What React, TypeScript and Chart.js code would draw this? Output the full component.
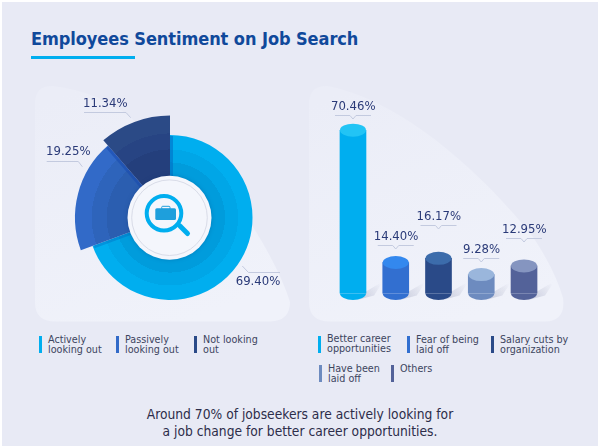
import React, { useEffect, useRef } from "react";
import { Chart, registerables } from "chart.js";

Chart.register(...registerables);

const FONT = "'DejaVu Sans Condensed', 'DejaVu Sans', sans-serif";

const sentimentCategories = ["Actively looking out", "Passively looking out", "Not looking out"];
const sentimentValues = [69.4, 19.25, 11.34];
const sentimentColors = ["#00aeef", "#326ac8", "#2a4a88"];
const reasonCategories = ["Better career opportunities", "Fear of being laid off", "Salary cuts by organization", "Have been laid off", "Others"];
const reasonValues = [70.46, 14.4, 16.17, 9.28, 12.95];
const reasonSide = ["#00aeef", "#326fd0", "#2a4a88", "#6d8bbf", "#536299"];
const reasonTop = ["#22c4f5", "#3388ee", "#3c6cab", "#9ab6dc", "#8595c0"];
const title = "Employees Sentiment on Job Search";
const note = ["Around 70% of jobseekers are actively looking for", "a job change for better career opportunities."];

// Drawing style and layout, separate from the data above
const sentimentRadii = [82.5, 95, 102];
const sentimentBands = [
  ["#009cdc", "#00a6e7", "#00aeef"],
  ["#2b5eb0", "#2e64bb", "#326ac8"],
  ["#243f7c", "#274483", "#2b4a86"],
];
const reasonLabelLift = [15.2, 17.2, 33, 16.3, 27.6];
const legendLeftPos = [
  { x: 39, y: 336, w: 68 },
  { x: 116, y: 336, w: 68 },
  { x: 194, y: 336, w: 68 },
];
const legendRightPos = [
  { x: 318, y: 336, w: 70, dy: -1 },
  { x: 407, y: 336, w: 70 },
  { x: 491, y: 336, w: 76 },
  { x: 319, y: 365, w: 60 },
  { x: 391, y: 365, w: 40 },
];

const pct = (v: number) => v.toFixed(2) + "%";

const LABEL_COLOR = "#2a3a78";
const LINE_COLOR = "#c3cadf";

function leader(ctx: CanvasRenderingContext2D, pts: number[][]) {
  ctx.save();
  ctx.strokeStyle = LINE_COLOR;
  ctx.lineWidth = 1;
  ctx.beginPath();
  pts.forEach((p, i) => (i ? ctx.lineTo(p[0], p[1]) : ctx.moveTo(p[0], p[1])));
  ctx.stroke();
  ctx.restore();
}

function labelText(ctx: CanvasRenderingContext2D, s: string, x: number, y: number) {
  ctx.save();
  ctx.font = `13px ${FONT}`;
  ctx.fillStyle = LABEL_COLOR;
  ctx.textAlign = "center";
  ctx.textBaseline = "middle";
  ctx.fillText(s, x, y);
  ctx.restore();
}

function edgeShade(ctx: CanvasRenderingContext2D, a: any, angle: number, side: number, R: number, color: string) {
  const nx = -Math.sin(angle) * side * 1.5;
  const ny = Math.cos(angle) * side * 1.5;
  ctx.save();
  ctx.strokeStyle = color;
  ctx.lineWidth = 3;
  ctx.beginPath();
  ctx.moveTo(a.x + Math.cos(angle) * 35 + nx, a.y + Math.sin(angle) * 35 + ny);
  ctx.lineTo(a.x + Math.cos(angle) * R + nx, a.y + Math.sin(angle) * R + ny);
  ctx.stroke();
  ctx.restore();
}

const rosePlugin = {
  id: "rose",
  beforeDatasetsDraw(chart: any) {
    const arcs = chart.getDatasetMeta(0).data;
    arcs.forEach((a: any, i: number) => {
      a.outerRadius = sentimentRadii[i];
      a.innerRadius = 30;
    });
  },
  afterDatasetsDraw(chart: any) {
    const ctx = chart.ctx as CanvasRenderingContext2D;
    const arcs = chart.getDatasetMeta(0).data;
    edgeShade(ctx, arcs[2], arcs[2].startAngle, -1, 94, "rgba(25,75,175,0.6)");
    edgeShade(ctx, arcs[2], arcs[2].endAngle, 1, 81.5, "rgba(0,105,195,0.55)");
    edgeShade(ctx, arcs[1], arcs[1].startAngle, -1, 81.5, "rgba(0,100,190,0.35)");
    const v = sentimentValues;
    labelText(ctx, pct(v[0]), 238, 201.7);
    leader(ctx, [[222.3, 186], [228.5, 192.5], [260, 192.5]]);
    labelText(ctx, pct(v[1]), 48.3, 72);
    leader(ctx, [[26.7, 81.5], [58.3, 81.5], [62.3, 86.7]]);
    labelText(ctx, pct(v[2]), 85.3, 23.7);
    leader(ctx, [[64, 32.5], [106, 32.5], [110.7, 37.7]]);
  },
};

const cylinderPlugin = {
  id: "cylinder",
  beforeDatasetsDraw(chart: any) {
    const ctx = chart.ctx as CanvasRenderingContext2D;
    const els = chart.getDatasetMeta(0).data;
    const base = chart.chartArea.bottom;
    els.forEach((e: any) => {
      const g = ctx.createLinearGradient(e.x + 10, base + 4, e.x + 28, base - 10);
      g.addColorStop(0, "rgba(140,145,175,0.32)");
      g.addColorStop(1, "rgba(140,145,175,0)");
      ctx.save();
      ctx.fillStyle = g;
      ctx.beginPath();
      ctx.moveTo(e.x + 6, base + 6);
      ctx.lineTo(e.x + 13, base - 2);
      ctx.lineTo(e.x + 30, base - 12);
      ctx.lineTo(e.x + 21, base + 2);
      ctx.closePath();
      ctx.fill();
      ctx.restore();
    });
  },
  afterDatasetsDraw(chart: any) {
    const ctx = chart.ctx as CanvasRenderingContext2D;
    const els = chart.getDatasetMeta(0).data;
    const base = chart.chartArea.bottom;
    const ry = 6.5;
    els.forEach((e: any, i: number) => {
      const rx = e.width / 2;
      ctx.save();
      ctx.fillStyle = reasonSide[i];
      ctx.beginPath();
      ctx.ellipse(e.x, base, rx, ry, 0, 0, Math.PI);
      ctx.fill();
      ctx.fillStyle = reasonTop[i];
      ctx.beginPath();
      ctx.ellipse(e.x, e.y, rx, ry, 0, 0, Math.PI * 2);
      ctx.fill();
      ctx.restore();
      const ly = Math.round(e.y - reasonLabelLift[i]) + 0.5;
      leader(ctx, [[e.x - 18, ly], [e.x - 3, ly], [e.x, ly + 3.5], [e.x + 3, ly], [e.x + 18, ly]]);
      labelText(ctx, pct(reasonValues[i]), e.x + 0.3, ly - 8.5);
    });
  },
};

function Legend({ x, y, w, t, c, dy = 0 }: { x: number; y: number; w: number; t: string; c: string; dy?: number }) {
  return (
    <div style={{ position: "absolute", left: x, top: y, width: w + 12, height: 17, borderLeft: `3px solid ${c}`, paddingLeft: 6, font: `10.7px/10px ${FONT}`, color: "#3d4560" }}>
      <div style={{ width: w, marginTop: dy - 1 }}>{t}</div>
    </div>
  );
}

export default function App() {
  const pieRef = useRef<HTMLCanvasElement>(null);
  const barRef = useRef<HTMLCanvasElement>(null);

  useEffect(() => {
    document.body.style.margin = "0";
    document.body.style.background = "#ffffff";
    const pie = new Chart(pieRef.current!, {
      type: "doughnut",
      data: {
        labels: sentimentCategories,
        datasets: [
          {
            data: sentimentValues,
            borderWidth: 0,
            backgroundColor: (c: any) => {
              const i = c.dataIndex ?? 0;
              const ctx = c.chart.ctx as CanvasRenderingContext2D;
              const R = sentimentRadii[i];
              const g = ctx.createRadialGradient(150, 137.5, 0, 150, 137.5, R);
              const colors = sentimentBands[i];
              const stops = [0, 0.667, 0.667, 0.824, 0.824, 1];
              stops.forEach((s, k) => g.addColorStop(s, colors[Math.floor(k / 2)]));
              return g;
            },
          },
        ],
      },
      options: {
        responsive: false,
        animation: false,
        cutout: 30,
        radius: 102,
        layout: { padding: { top: 35 } },
        plugins: { legend: { display: false }, tooltip: { enabled: false } },
      } as any,
      plugins: [rosePlugin],
    });

    const bar = new Chart(barRef.current!, {
      type: "bar",
      data: {
        labels: reasonCategories,
        datasets: [{ data: reasonValues, backgroundColor: reasonSide, borderWidth: 0, barThickness: 26 }],
      },
      options: {
        responsive: false,
        animation: false,
        layout: { padding: { left: 21.6, right: 24.6, top: 27.7, bottom: 16.5 } },
        scales: {
          x: { display: false },
          y: { display: false, min: 1.27, max: 80 },
        },
        plugins: { legend: { display: false }, tooltip: { enabled: false } },
      } as any,
      plugins: [cylinderPlugin],
    });
    return () => {
      pie.destroy();
      bar.destroy();
    };
  }, []);

  return (
    <div style={{ position: "relative", width: 600, height: 448, overflow: "hidden", background: "#fff" }}>
      <div style={{ position: "absolute", left: 2, top: 2, width: 596, height: 444, background: "#e8eaf5" }} />
      <svg width={600} height={448} style={{ position: "absolute", left: 0, top: 0 }}>
        <defs>
          <linearGradient id="pg" x1="0.2" y1="0" x2="0.6" y2="1">
            <stop offset="0" stopColor="#ebedf7" />
            <stop offset="1" stopColor="#f0f2fa" />
          </linearGradient>
        </defs>
        <path d="M35 104 Q35 85 53 86 Q100 92 130 117 L253 227 Q280 270 290 302 Q290 321 270 321.5 L55 321.5 Q35 321.5 35 302 Z" fill="url(#pg)" />
        <path d="M309 104 Q309 85 328 86 C400 100 480 170 533 237 Q555 270 563 298 Q566 321 545 321.5 L330 321.5 Q309 321.5 309 302 Z" fill="url(#pg)" />
      </svg>
      <div style={{ position: "absolute", left: 31, top: 28, font: `bold 18px ${FONT}`, color: "#10499b", whiteSpace: "nowrap", letterSpacing: -0.07 }}>{title}</div>
      <div style={{ position: "absolute", left: 31, top: 56, width: 104, height: 3, background: "#00aeef" }} />
      <canvas ref={pieRef} width={300} height={240} style={{ position: "absolute", left: 20, top: 80 }} />
      <canvas ref={barRef} width={260} height={230} style={{ position: "absolute", left: 310, top: 80 }} />
      <svg width={100} height={100} viewBox="0 0 100 100" style={{ position: "absolute", left: 120, top: 168 }}>
        <circle cx={49.5} cy={49.7} r={42} fill="#f4f6fc" style={{ filter: "drop-shadow(0 0 2px rgba(0,40,100,0.25))" }} />
        <circle cx={49.5} cy={49.7} r={37.8} fill="none" stroke="#d9dce8" strokeWidth={1} />
        <circle cx={44} cy={45.3} r={17.3} fill="none" stroke="#00aeef" strokeWidth={4} />
        <line x1={60} y1={58} x2={67.5} y2={65.5} stroke="#00aeef" strokeWidth={5} strokeLinecap="round" />
        <rect x={35.3} y={40.3} width={20.7} height={11.7} rx={1.5} fill="#1e9fdc" />
        <rect x={41.7} y={38.3} width={8.3} height={3} rx={1} fill="none" stroke="#1e9fdc" strokeWidth={1} />
      </svg>
      {legendLeftPos.map((p, i) => (
        <Legend key={i} {...p} t={sentimentCategories[i]} c={sentimentColors[i]} />
      ))}
      {legendRightPos.map((p, i) => (
        <Legend key={i} {...p} t={reasonCategories[i]} c={reasonSide[i]} />
      ))}
      <div style={{ position: "absolute", left: 0, width: 600, top: 406, textAlign: "center", font: `13.7px/16.7px ${FONT}`, color: "#2d2d4a" }}>
        {note.map((n) => (
          <div key={n}>{n}</div>
        ))}
      </div>
    </div>
  );
}
